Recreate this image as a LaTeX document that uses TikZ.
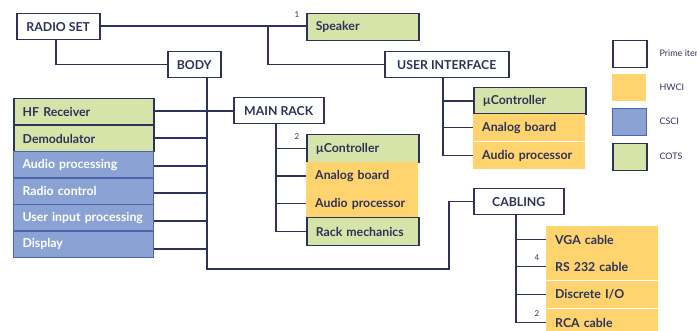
\documentclass[tikz,border=0pt]{standalone}
\usepackage{fontspec}
\setmainfont{Lato}
\usetikzlibrary{calc}
\definecolor{navy}{HTML}{2D3258}
\definecolor{cotsfill}{HTML}{D6E4AA}
\definecolor{hwfill}{HTML}{FFD46F}
\definecolor{csfill}{HTML}{8AA3D4}
\definecolor{csline}{HTML}{4F66AD}
\tikzset{
  base/.style={rectangle, anchor=north west, minimum height=#1, inner ysep=0pt,
    font=\fontsize{12.3}{14}\selectfont\bfseries, text=navy},
  prime/.style={base=26, draw=navy, line width=1.5pt, fill=white, align=center},
  leafL/.style={base=#1, align=left, text width=122pt, inner xsep=9pt},
  leafR/.style={base=#1, align=left, text width=94pt, inner xsep=9pt},
  cots/.style={draw=navy, line width=1.5pt, fill=cotsfill},
  hw/.style={fill=hwfill},
  cs/.style={draw=csline, line width=1.1pt, fill=csfill, text=white},
  link/.style={draw=navy, line width=1.5pt},
  qty/.style={font=\fontsize{8}{9}\selectfont, text=navy},
  key/.style={rectangle, anchor=north west, minimum width=34pt, minimum height=27pt},
  keytext/.style={anchor=west, font=\fontsize{9}{10}\selectfont, text=navy},
}
\begin{document}
\begin{tikzpicture}[x=1pt,y=-1pt]
\useasboundingbox (0,0) rectangle (697,331);
\clip (0,0) rectangle (697,331);

% prime items
\node[prime, minimum width=83]  (radio) at (16,13)  {RADIO SET};
\node[prime, minimum width=53]  (body)  at (167,51) {BODY};
\node[prime, minimum width=124] (ui)    at (384,51) {USER INTERFACE};
\node[prime, minimum width=90]  (main)  at (233,97) {MAIN RACK};
\node[prime, minimum width=90]  (cab)   at (473,188) {CABLING};

% top level
\node[leafR=27, cots] (spk) at (306,13) {Speaker};

% body components
\node[leafL=26.5, cots] (hf)    at (13,98)    {HF Receiver};
\node[leafL=26.5, cots] (dem)   at (13,124.5) {Demodulator};
\node[leafL=26.5, cs]   (aud)   at (13,151)   {Audio processing};
\node[leafL=26.5, cs]   (rctl)  at (13,177.5) {Radio control};
\node[leafL=26.5, cs]   (uin)   at (13,204)   {User input processing};
\node[leafL=26.5, cs]   (disp)  at (13,230.5) {Display};

% main rack components
\node[leafR=28, cots] (mrc)  at (306,134) {µController};
\node[leafR=28, hw]   (mran) at (306,162) {Analog board};
\node[leafR=27, hw]   (mrap) at (306,190) {Audio processor};
\node[leafR=28, cots] (mrme) at (306,217) {Rack mechanics};

% user interface components
\node[leafR=26.5, cots] (uic)  at (473,87)  {µController};
\node[leafR=27, hw]     (uian) at (473,114) {Analog board};
\node[leafR=27, hw]     (uiap) at (473,142) {Audio processor};

% cabling components
\node[leafR=27, hw] (vga) at (546,226) {VGA cable};
\node[leafR=27, hw] (rs)  at (546,253) {RS 232 cable};
\node[leafR=27, hw] (dio) at (546,281) {Discrete I/O};
\node[leafR=27, hw] (rca) at (546,309) {RCA cable};

% trunk points
\coordinate (j1) at (268,26);
\coordinate (bt) at (207,77);
\coordinate (bend) at (449,269);
\coordinate (mt) at (276,124);
\coordinate (ut) at (443,77);
\coordinate (ct) at (516,214);

% connectors
\draw[link] (radio.east |- j1) -- (spk.west |- j1);
\draw[link] (j1) |- (ui.west);
\draw[link] (radio.south -| 56,0) |- (body.west);
\draw[link] (bt) |- (bend) |- (cab.west);
\draw[link] (hf.east |- 0,111) -- (main.west |- 0,111);
\draw[link] (dem.east |- 0,138) -- (bt |- 0,138);
\draw[link] (aud.east |- 0,166) -- (bt |- 0,166);
\draw[link] (rctl.east |- 0,193) -- (bt |- 0,193);
\draw[link] (uin.east |- 0,221) -- (bt |- 0,221);
\draw[link] (disp.east |- 0,249) -- (bt |- 0,249);

\draw[link] (mt) |- (mrme.west);
\draw[link] (mt |- mrc.west) -- (mrc.west);
\draw[link] (mt |- mran.west) -- (mran.west);
\draw[link] (mt |- mrap.west) -- (mrap.west);

\draw[link] (ut) |- (uiap.west);
\draw[link] (ut |- uic.west) -- (uic.west);
\draw[link] (ut |- uian.west) -- (uian.west);

\draw[link] (ct) |- (rca.west);
\draw[link] (ct |- vga.west) -- (vga.west);
\draw[link] (ct |- rs.west) -- (rs.west);
\draw[link] (ct |- dio.west) -- (dio.west);

% quantities
\node[qty] (q1) at (297,15)  {1};
\node[qty] (q2) at (297,137) {2};
\node[qty] (q3) at (537,258) {4};
\node[qty] (q4) at (537,314) {2};

% legend
\node[key, draw=navy, line width=1.5pt, fill=white]   (kp) at (612,40)  {};
\node[key, fill=hwfill]                               (kh) at (612,74)  {};
\node[key, draw=csline, line width=1.1pt, fill=csfill] (kc) at (612,108) {};
\node[key, draw=navy, line width=1.5pt, fill=cotsfill] (kg) at (612,143) {};
\node[keytext] (tp) at (656,53.5)  {Prime item};
\node[keytext] (th) at (656,87.5)  {HWCI};
\node[keytext] (tc) at (656,121.5) {CSCI};
\node[keytext] (tg) at (656,156.5) {COTS};
\end{tikzpicture}
\end{document}
